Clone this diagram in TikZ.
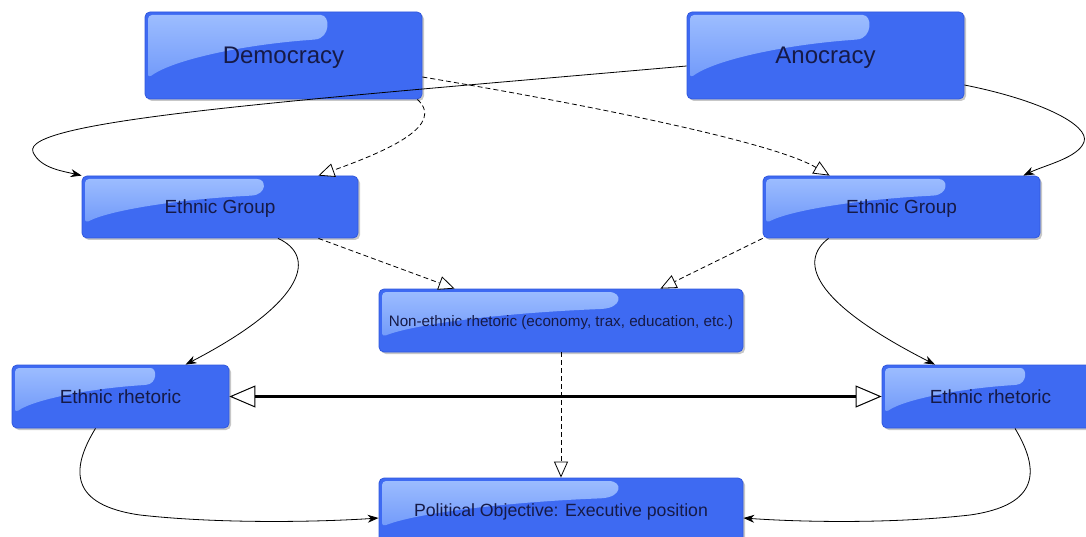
\documentclass[tikz,border=0pt]{standalone}
\usepackage{fontspec}
\setmainfont{Liberation Sans}
\usetikzlibrary{arrows.meta,calc,shadows}
\definecolor{boxblue}{RGB}{62,106,242}
\definecolor{boxedge}{RGB}{48,88,222}
\definecolor{glossA}{RGB}{158,190,255}
\definecolor{glossB}{RGB}{100,143,248}
\definecolor{navy}{RGB}{22,26,70}
\newcommand\myglossy{%
 \path[top color=glossA, bottom color=glossB, rounded corners=4pt]
 let \p1=(path picture bounding box.north west), \p2=(path picture bounding box.south east),
     \n1={\x2-\x1}, \n2={\y1-\y2} in
 (\x1+3pt,\y1-0.76*\n2) -- (\x1+3pt,\y1-3pt) -- (\x1+0.62*\n1,\y1-3pt)
 .. controls (\x1+0.67*\n1,\y1-3pt) and (\x1+0.67*\n1,\y1-0.3*\n2) .. (\x1+0.6*\n1,\y1-0.32*\n2)
 .. controls (\x1+0.35*\n1,\y1-0.38*\n2) and (\x1+0.1*\n1,\y1-0.55*\n2) .. (\x1+3pt,\y1-0.76*\n2) -- cycle;}
\tikzset{
 box/.style={draw=boxedge, line width=0.8pt, fill=boxblue, rounded corners=5pt, text=navy,
   align=center, inner sep=0pt, text depth=0pt,
   drop shadow={shadow xshift=2pt, shadow yshift=-2pt, opacity=0.22, fill=black},
   path picture={\myglossy}},
 solidarr/.style={draw, line width=0.8pt, -{Stealth[length=11pt,width=8pt]}},
 dasharr/.style={draw, line width=0.8pt, dash pattern=on 5pt off 3pt,
   -{Triangle[open,length=16pt,width=14pt,fill=white,line width=0.8pt]}},
 thickarr/.style={draw, line width=3pt,
   {Triangle[open,length=26pt,width=22pt,fill=white,line width=1pt]}-{Triangle[open,length=26pt,width=22pt,fill=white,line width=1pt]}},
}
\begin{document}
\begin{tikzpicture}[x=1pt,y=-1pt]
\useasboundingbox (0,0) rectangle (1086,537);
\clip (0,0) rectangle (1086,537);
\fill[white] (0,0) rectangle (1086,537);
% nodes
\node[box, minimum width=277pt, minimum height=87pt, font=\fontsize{24}{28}\selectfont] (dem) at (283.5,55.5) {Democracy};
\node[box, minimum width=277pt, minimum height=87pt, font=\fontsize{24}{28}\selectfont] (ano) at (825.5,55.5) {Anocracy};
\node[box, minimum width=276pt, minimum height=62pt, font=\fontsize{19}{22}\selectfont] (egl) at (220,207) {Ethnic Group};
\node[box, minimum width=277pt, minimum height=62pt, font=\fontsize{19}{22}\selectfont] (egr) at (901.5,207) {Ethnic Group};
\node[box, minimum width=364pt, minimum height=63pt, font=\fontsize{15.2}{18}\selectfont] (non) at (561,320.5) {Non-ethnic rhetoric (economy, trax, education, etc.)};
\node[box, minimum width=217pt, minimum height=63pt, font=\fontsize{19}{22}\selectfont] (erl) at (120.5,396.5) {Ethnic rhetoric};
\node[box, minimum width=217pt, minimum height=63pt, font=\fontsize{19}{22}\selectfont] (err) at (990.5,396.5) {Ethnic rhetoric};
\node[box, minimum width=364pt, minimum height=64pt, font=\fontsize{17.7}{21}\selectfont] (pol) at (561,510) {Political Objective: Executive position};
% connectors
\path[solidarr] ($(ano.west)+(0,10.5)$) .. controls (300,100) and (20,120) .. (33,152)
  .. controls (40,168) and (62,171) .. (egl.north west);
\path[solidarr] ($(ano.east)+(0,29.5)$) .. controls (1040,100) and (1090,125) .. (1084,142)
  .. controls (1078,158) and (1045,165) .. ($(egr.north east)+(-17,0)$);
\path[dasharr] ($(dem.south east)+(-5,0)$) .. controls (445,125) and (390,150) .. ($(egl.north east)+(-40,0)$);
\path[dasharr] ($(dem.east)+(0,21.5)$) .. controls (560,100) and (770,140) .. ($(egr.north west)+(67,0)$);
\path[dasharr] ($(egl.south east)+(-40,0)$) -- ($(non.north west)+(76,0)$);
\path[dasharr] (egr.south west) -- ($(non.north east)+(-83,0)$);
\path[solidarr] ($(egl.south)+(58,0)$) .. controls (315,255) and (310,300) .. ($(erl.north)+(65,0)$);
\path[solidarr] ($(egr.south)+(-73,0)$) .. controls (800,260) and (808,300) .. ($(err.north)+(-55.5,0)$);
\path[dasharr] (non.south) -- (pol.north);
\path[thickarr] (erl.east) -- (err.west);
\path[solidarr] ($(erl.south)+(-25,0)$) .. controls (70,470) and (70,505) .. (140,515)
  .. controls (220,524) and (320,522) .. ($(pol.west)+(0,8)$);
\path[solidarr] ($(err.south)+(24.5,0)$) .. controls (1040,470) and (1040,505) .. (970,515)
  .. controls (890,524) and (800,522) .. ($(pol.east)+(0,8)$);
\end{tikzpicture}
\end{document}
